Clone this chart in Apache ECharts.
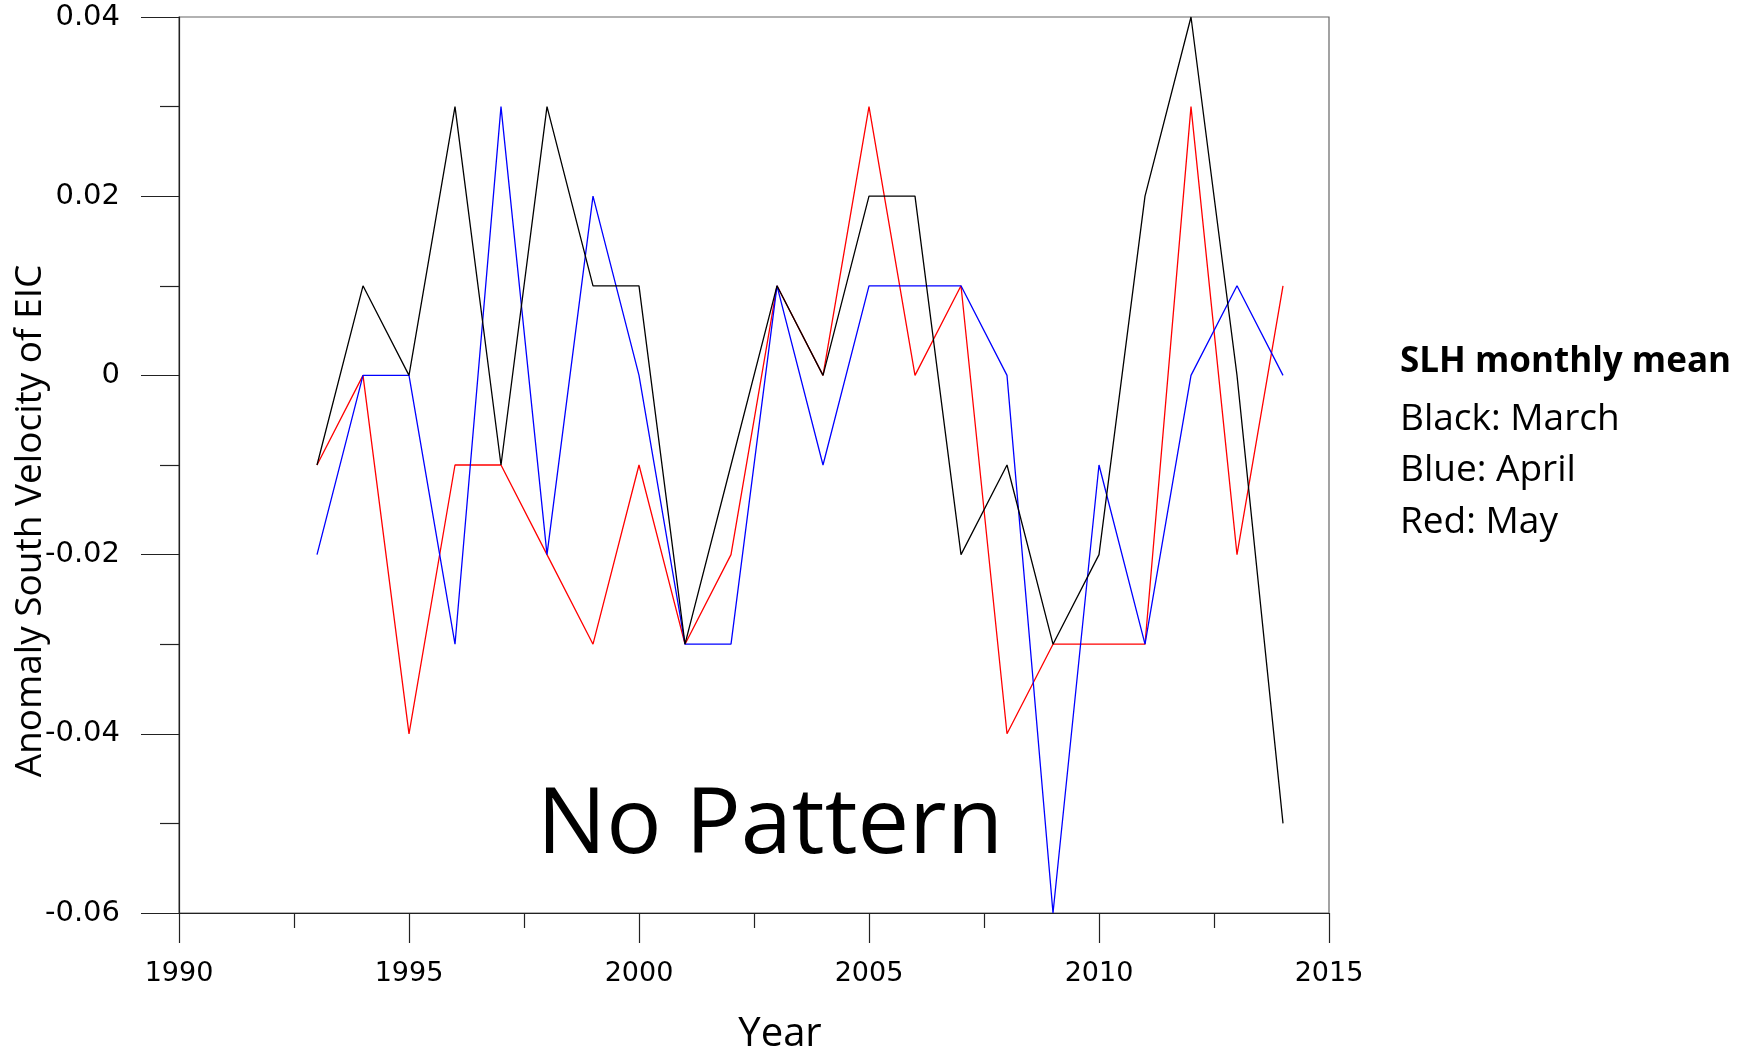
<!DOCTYPE html>
<html>
<head>
<meta charset="utf-8">
<script src="https://cdn.jsdelivr.net/npm/echarts@6/dist/echarts.min.js"></script>
<style>
  html, body { margin: 0; padding: 0; background: #fff; }
  #chart { width: 1748px; height: 1052px; }
</style>
</head>
<body>
<div id="chart"></div>
<script>
// Years of the SLH monthly-mean record
const years = [1993, 1994, 1995, 1996, 1997, 1998, 1999, 2000, 2001, 2002, 2003,
               2004, 2005, 2006, 2007, 2008, 2009, 2010, 2011, 2012, 2013, 2014];

// Anomaly of the south velocity of the EIC, per month
const march = [-0.01, 0.01, 0, 0.03, -0.01, 0.03, 0.01, 0.01, -0.03, -0.01, 0.01,
               0, 0.02, 0.02, -0.02, -0.01, -0.03, -0.02, 0.02, 0.04, 0, -0.05];
const april = [-0.02, 0, 0, -0.03, 0.03, -0.02, 0.02, 0, -0.03, -0.03, 0.01,
               -0.01, 0.01, 0.01, 0.01, 0, -0.06, -0.01, -0.03, 0, 0.01, 0];
const may   = [-0.01, 0, -0.04, -0.01, -0.01, -0.02, -0.03, -0.01, -0.03, -0.02, 0.01,
               0, 0.03, 0, 0.01, -0.04, -0.03, -0.03, -0.03, 0.03, -0.02, 0.01];

// Axis ranges and labelled tick steps
const xRange = [1990, 2015];
const xStep = 5;
const yRange = [-0.06, 0.04];
const yStep = 0.02;

const legendTitle = 'SLH monthly mean';
const legendLines = ['Black: March', 'Blue: April', 'Red: May'];

const pairs = vals => years.map((y, i) => [y, vals[i]]);

const chart = echarts.init(document.getElementById('chart'));

const axisColor = '#222';
const tickFont = 'DejaVu Sans';

chart.setOption({
  animation: false,
  backgroundColor: '#ffffff',
  grid: {
    left: 179, top: 17, right: 419, bottom: 139,
    show: true, borderColor: '#666', borderWidth: 1.2, backgroundColor: 'transparent'
  },
  xAxis: {
    type: 'value',
    min: xRange[0], max: xRange[1], interval: xStep,
    axisLine: { show: true, onZero: false, lineStyle: { color: axisColor, width: 1.2 } },
    axisTick: { show: true, inside: false, length: 30, lineStyle: { color: axisColor, width: 1.2 } },
    minorTick: { show: true, splitNumber: 2, length: 15, lineStyle: { color: axisColor, width: 1.2 } },
    splitLine: { show: false },
    axisLabel: { margin: 47, color: '#000', fontFamily: tickFont, fontSize: 27,
                 formatter: v => String(v) }
  },
  yAxis: {
    type: 'value',
    min: yRange[0], max: yRange[1], interval: yStep,
    axisLine: { show: true, onZero: false, lineStyle: { color: axisColor, width: 1.2 } },
    axisTick: { show: true, inside: false, length: 38, lineStyle: { color: axisColor, width: 1.2 } },
    minorTick: { show: true, splitNumber: 2, length: 19, lineStyle: { color: axisColor, width: 1.2 } },
    splitLine: { show: false },
    axisLabel: {
      margin: 59, color: '#000', fontFamily: tickFont, fontSize: 29,
      formatter: v => String(+v.toFixed(2))
    }
  },
  series: [
    { name: 'May', type: 'line', data: pairs(may), symbol: 'none',
      lineStyle: { color: '#ff0000', width: 1.3 } },
    { name: 'April', type: 'line', data: pairs(april), symbol: 'none',
      lineStyle: { color: '#0000ff', width: 1.3 } },
    { name: 'March', type: 'line', data: pairs(march), symbol: 'none',
      lineStyle: { color: '#000000', width: 1.3 } }
  ],
  graphic: [
    { type: 'text', x: 30, y: 521, rotation: Math.PI / 2,
      style: { text: 'Anomaly South Velocity of EIC', fill: '#000',
               font: '37px "Open Sans"', textAlign: 'center', textVerticalAlign: 'middle' } },
    { type: 'text', x: 780, y: 1035,
      style: { text: 'Year', fill: '#000', font: '40px "Open Sans"',
               textAlign: 'center', textVerticalAlign: 'middle' } },
    { type: 'text', x: 770, y: 827,
      style: { text: 'No Pattern', fill: '#000', font: '92px "Open Sans"',
               textAlign: 'center', textVerticalAlign: 'middle' } },
    { type: 'text', x: 1400, y: 362,
      style: { text: legendTitle, fill: '#000', font: 'bold 35px "Open Sans"',
               textAlign: 'left', textVerticalAlign: 'middle' } },
    ...legendLines.map((t, i) => ({
      type: 'text', x: 1400, y: 419 + i * 51.5,
      style: { text: t, fill: '#000', font: '37px "Open Sans"',
               textAlign: 'left', textVerticalAlign: 'middle' }
    }))
  ]
});
</script>
</body>
</html>
